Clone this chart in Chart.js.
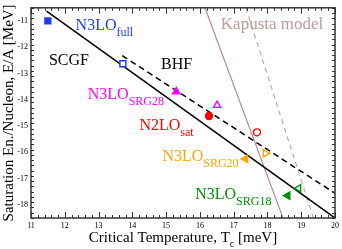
<!DOCTYPE html>
<html>
<head>
<meta charset="utf-8">
<script src="https://cdn.jsdelivr.net/npm/chart.js@4/dist/chart.umd.min.js"></script>
<style>
  html, body { margin: 0; padding: 0; background: #fff; }
  #wrap { width: 342px; height: 249px; }
</style>
</head>
<body>
<div id="wrap"><canvas id="tc"></canvas></div>
<script>
// valores
var forces = ['N3LO full', 'N3LO SRG28', 'N2LO sat', 'N3LO SRG20', 'N3LO SRG18'];
var forceColors = ['#1f3cff', '#ff00ff', '#ff0000', '#ffa500', '#008f00'];
var filledT = [11.5, 15.30, 16.27, 17.35, 18.60];
var filledE = [-11.0, -13.69, -14.62, -16.25, -17.65];
var openT = [13.72, 16.51, 17.69, 17.94, 18.92];
var openE = [-12.63, -14.21, -15.24, -16.04, -17.37];

// rectas (SCGF, BHF, Kapusta)
var scgfLineT = [11.46, 20.0];
var scgfLineE = [-10.63, -18.5];
var bhfLineT = [13.70, 20.0];
var bhfLineE = [-12.32, -17.56];
var kapustaT = [16.15, 18.46];
var kapustaE = [-10.5, -18.5];
var kapustaDashT = [17.36, 19.36];
var kapustaDashE = [-10.5, -18.5];

var xTicks = [11, 12, 13, 14, 15, 16, 17, 18, 19, 20];
var yTicks = [-18, -17, -16, -15, -14, -13, -12, -11];

function pts(xs, ys) {
    return xs.map(function (x, i) { return {x: x, y: ys[i]}; });
}

// etiquetas dentro de la grafica
var notes = [
    {t: 'N3LO', s: 'full', x: 12.32, y: -11.35, c: '#1f3cff', f: 16},
    {t: 'SCGF', s: '', x: 11.53, y: -12.67, c: '#000', f: 16},
    {t: 'BHF', s: '', x: 14.85, y: -12.82, c: '#000', f: 16},
    {t: 'N3LO', s: 'SRG28', x: 12.68, y: -13.96, c: '#ff00ff', f: 16},
    {t: 'N2LO', s: 'sat', x: 14.21, y: -15.15, c: '#ff0000', f: 16},
    {t: 'N3LO', s: 'SRG20', x: 14.89, y: -16.32, c: '#ffa500', f: 16},
    {t: 'N3LO', s: 'SRG18', x: 15.86, y: -17.78, c: '#008f00', f: 16},
    {t: 'Kapusta model', s: '', x: 16.62, y: -11.29, c: '#c09a9a', f: 17}
];

var shapes = ['rect', 'triangle', 'circle', 'triangle', 'triangle'];
var rotFilled = [0, 0, 0, -90, -90];
var rotOpen = [0, 0, 0, 90, -90];
var sizes = [4.2, 4.2, 3.5, 4.2, 4.2];

var datasets = [];
forces.forEach(function (name, i) {
    datasets.push({
        label: name,
        data: [{x: filledT[i], y: filledE[i]}, {x: openT[i], y: openE[i]}],
        showLine: false,
        pointStyle: shapes[i],
        rotation: [rotFilled[i], rotOpen[i]],
        pointRadius: sizes[i],
        pointBackgroundColor: [forceColors[i], '#fff'],
        pointBorderColor: forceColors[i],
        pointBorderWidth: 1.4,
        order: 0
    });
});
datasets.push({label: 'SCGF', data: pts(scgfLineT, scgfLineE), showLine: true, borderColor: '#000', borderWidth: 1.5, pointRadius: 0, order: 1});
datasets.push({label: 'BHF', data: pts(bhfLineT, bhfLineE), showLine: true, borderColor: '#000', borderWidth: 1.5, borderDash: [6, 4], pointRadius: 0, order: 1});
datasets.push({label: 'Kapusta', data: pts(kapustaT, kapustaE), showLine: true, borderColor: '#b88c8c', borderWidth: 1.2, pointRadius: 0, order: 2});
datasets.push({label: 'Kapusta dash', data: pts(kapustaDashT, kapustaDashE), showLine: true, borderColor: '#c9a3a3', borderWidth: 1.2, borderDash: [5, 4], pointRadius: 0, order: 2});

var SERIF = '"Liberation Serif", "DejaVu Serif", serif';

var decor = {
    id: 'decor',
    afterDraw: function (chart) {
        var c = chart.ctx, a = chart.chartArea;
        var xs = chart.scales.x, ys = chart.scales.y;
        c.save();
        // marco
        c.strokeStyle = '#333';
        c.lineWidth = 1.5;
        c.strokeRect(a.left, a.top, a.right - a.left, a.bottom - a.top);
        // marcas hacia adentro
        c.lineWidth = 1;
        c.beginPath();
        var i, v, p, len;
        for (i = 0; i <= Math.round((xs.max - xs.min) / 0.2); i++) {
            v = xs.min + i * 0.2;
            p = Math.round(xs.getPixelForValue(v)) + 0.5;
            len = Math.abs(v - Math.round(v)) < 1e-6 ? 6 : 3;
            c.moveTo(p, a.bottom); c.lineTo(p, a.bottom - len);
            c.moveTo(p, a.top); c.lineTo(p, a.top + len);
        }
        for (i = 0; i <= Math.round((ys.max - ys.min) / 0.2); i++) {
            v = ys.min + i * 0.2;
            p = Math.round(ys.getPixelForValue(v)) + 0.5;
            len = Math.abs(v - Math.round(v)) < 1e-6 ? 6 : 3;
            c.moveTo(a.left, p); c.lineTo(a.left + len, p);
            c.moveTo(a.right, p); c.lineTo(a.right - len, p);
        }
        c.stroke();

        // textos
        c.textBaseline = 'alphabetic';
        c.textAlign = 'left';
        notes.forEach(function (n) {
            var px = xs.getPixelForValue(n.x), py = ys.getPixelForValue(n.y);
            c.fillStyle = n.c;
            c.font = n.f + 'px ' + SERIF;
            c.fillText(n.t, px, py);
            if (n.s) {
                var w = c.measureText(n.t).width;
                c.font = '12px ' + SERIF;
                c.fillText(n.s, px + w, py + 6);
            }
        });

        // titulo eje x con subindice
        c.fillStyle = '#000';
        var main = 'Critical Temperature, T', tail = ' [meV]';
        c.font = '15px ' + SERIF;
        var w1 = c.measureText(main).width, w3 = c.measureText(tail).width;
        c.font = '10px ' + SERIF;
        var w2 = c.measureText('c').width;
        var x0 = (a.left + a.right) / 2 - (w1 + w2 + w3) / 2;
        c.font = '15px ' + SERIF;
        c.fillText(main, x0, 241.5);
        c.fillText(tail, x0 + w1 + w2, 241.5);
        c.font = '10px ' + SERIF;
        c.fillText('c', x0 + w1, 246.5);

        // titulo eje y
        c.font = '15px ' + SERIF;
        c.translate(13, (a.top + a.bottom) / 2);
        c.rotate(-Math.PI / 2);
        c.textAlign = 'center';
        c.fillText('Saturation En./Nucleon, E/A [MeV]', 0, 0);
        c.restore();
    }
};

var ctx = document.getElementById('tc').getContext('2d');
var myChart = new Chart(ctx, {
    type: 'scatter',
    data: {datasets: datasets},
    options: {
        responsive: true,
        maintainAspectRatio: false,
        animation: false,
        layout: {padding: {top: 4, right: 5, left: 0, bottom: 0}},
        plugins: {legend: {display: false}, tooltip: {enabled: false}},
        scales: {
            x: {
                type: 'linear', min: 11, max: 20,
                afterBuildTicks: function (s) { s.ticks = xTicks.map(function (v) { return {value: v}; }); },
                afterFit: function (s) { s.height = 31; },
                grid: {display: false, drawTicks: false},
                border: {display: false},
                ticks: {color: '#000', padding: 3, font: {family: SERIF, size: 8}, maxRotation: 0}
            },
            y: {
                type: 'linear', min: -18.5, max: -10.5,
                afterBuildTicks: function (s) { s.ticks = yTicks.map(function (v) { return {value: v}; }); },
                afterFit: function (s) { s.width = 31; },
                grid: {display: false, drawTicks: false},
                border: {display: false},
                ticks: {color: '#000', padding: 3, font: {family: SERIF, size: 8}}
            }
        }
    },
    plugins: [decor]
});
</script>
</body>
</html>
